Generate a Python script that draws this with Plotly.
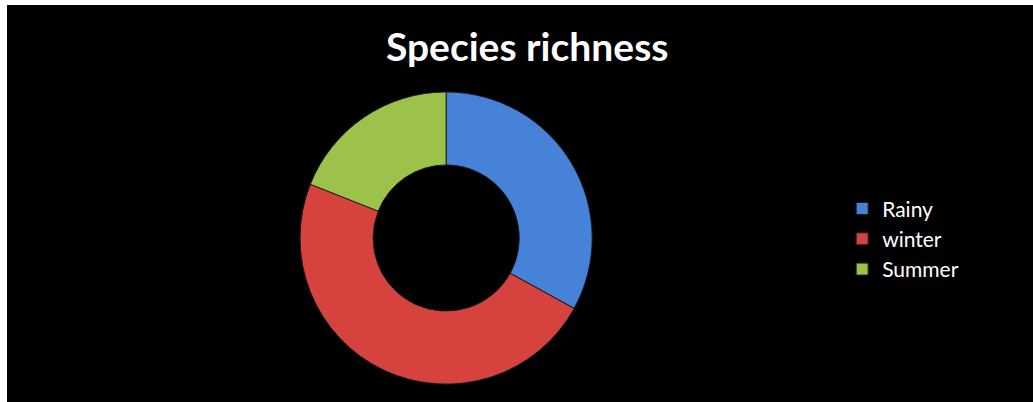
import plotly.graph_objects as go

labels = ["Rainy", "winter", "Summer"]
values = [33, 48, 19]
colors = ["#4582D8", "#D6433E", "#9DC24A"]

fig = go.Figure()
fig.add_trace(go.Pie(
    labels=labels,
    values=values,
    hole=0.5,
    sort=False,
    direction="clockwise",
    rotation=0,
    marker=dict(colors=colors, line=dict(color="#1a1a1a", width=1)),
    textinfo="none",
    hoverinfo="label+value",
    domain=dict(x=[0.228, 0.628], y=[0.045, 0.781]),
))

fig.update_layout(
    width=1033,
    height=402,
    paper_bgcolor="white",
    plot_bgcolor="black",
    margin=dict(l=7, r=0, t=5, b=0),
    title=dict(
        text="Species richness",
        font=dict(family="Lato", size=39, color="white", weight="bold"),
        x=0.507, xref="paper", xanchor="center",
        y=0.883, yref="container", yanchor="middle",
    ),
    legend=dict(
        x=0.814, xanchor="left",
        y=0.411, yanchor="middle",
        font=dict(family="Lato", size=21, color="white"),
        bgcolor="rgba(0,0,0,0)",
    ),
    shapes=[dict(type="rect", xref="paper", yref="paper", x0=0, x1=1, y0=0, y1=1,
                 fillcolor="black", line=dict(width=0), layer="below")],
)

fig.write_html("out.html",
               config={"displayModeBar": False},
               post_script="document.body.style.margin='0';document.body.style.overflow='hidden';")
